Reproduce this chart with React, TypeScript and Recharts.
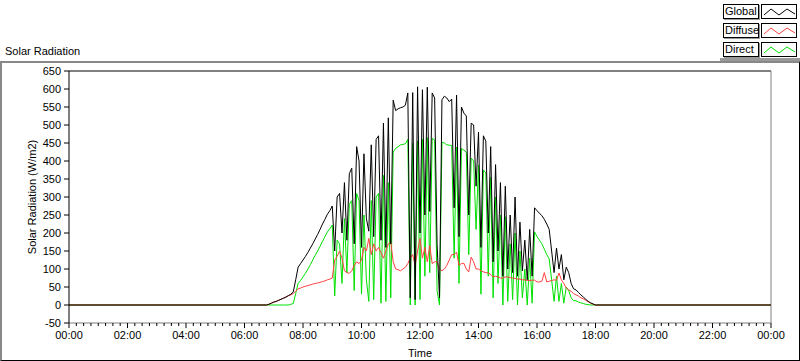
import React from 'react';
import { LineChart, Line, XAxis, YAxis, ReferenceLine } from 'recharts';

// daylight samples, 5 minutes apart, starting 06:45
const dayStartMinute = 405;
const stepMinutes = 5;

const globalValues = [
  0, 2, 5, 8, 10, 13, 16, 19, 22, 26, 30, 36, 70, 105, 115, 125, 135, 146, 158, 170,
  183, 196, 210, 225, 238, 252, 262, 275, 150, 300, 310, 200, 340, 180, 365, 380, 170, 440, 400, 160,
  420, 240, 205, 445, 190, 460, 470, 180, 505, 160, 520, 170, 569, 540, 545, 548, 550, 555, 589, 20,
  590, 15, 606, 200, 598, 250, 605, 260, 589, 575, 170, 20, 570, 580, 575, 565, 572, 270, 583, 190,
  550, 533, 525, 250, 505, 500, 330, 480, 160, 470, 455, 200, 440, 120, 390, 150, 340, 80, 330, 100,
  250, 90, 300, 80, 230, 95, 180, 70, 210, 80, 270, 262, 255, 248, 238, 225, 210, 150, 90, 158,
  100, 140, 70, 105, 90, 60, 45, 42, 35, 28, 22, 16, 10, 6, 3, 0,
];

const diffuseValues = [
  0, 2, 5, 8, 10, 13, 16, 19, 22, 26, 28, 32, 38, 45, 47, 50, 52, 54, 56, 58,
  60, 61, 63, 65, 67, 70, 72, 75, 125, 135, 150, 130, 95, 90, 88, 95, 110, 120, 115, 125,
  160, 150, 185, 140, 170, 150, 160, 145, 130, 150, 170, 175, 120, 100, 98, 95, 100, 105, 115, 130,
  140, 110, 150, 185, 130, 160, 120, 165, 115, 120, 120, 100, 95, 100, 110, 125, 140, 140, 147, 110,
  115, 116, 100, 92, 133, 120, 100, 100, 95, 92, 90, 89, 85, 78, 80, 78, 75, 75, 78, 78,
  76, 75, 74, 72, 72, 70, 70, 68, 68, 69, 69, 64, 64, 66, 90, 64, 66, 68, 70, 69,
  89, 70, 60, 47, 42, 38, 32, 28, 25, 20, 17, 13, 9, 5, 2, 0,
];

const directValues = [
  0, 0, 0, 0, 0, 0, 0, 0, 0, 0, 2, 4, 32, 60, 68, 78, 88, 100, 112, 125,
  138, 150, 163, 177, 190, 203, 212, 222, 25, 180, 170, 60, 240, 90, 280, 290, 40, 310, 290, 30,
  250, 70, 10, 290, 15, 300, 310, 5, 360, 10, 340, 20, 425, 435, 440, 445, 446, 448, 460, 0,
  450, 0, 455, 15, 460, 80, 465, 90, 463, 458, 40, 0, 452, 450, 445, 444, 443, 130, 439, 60,
  435, 430, 425, 140, 408, 400, 210, 389, 30, 375, 367, 80, 355, 20, 300, 60, 250, 0, 245, 10,
  170, 15, 200, 0, 150, 20, 100, 0, 130, 5, 203, 190, 180, 170, 155, 140, 128, 70, 10, 80,
  10, 60, 5, 50, 40, 20, 12, 12, 8, 6, 4, 2, 1, 0, 0, 0,
];

const yTicks = [-50, 0, 50, 100, 150, 200, 250, 300, 350, 400, 450, 500, 550, 600, 650];
const xMajorLabels = ['00:00', '02:00', '04:00', '06:00', '08:00', '10:00', '12:00',
  '14:00', '16:00', '18:00', '20:00', '22:00', '00:00'];
const xTicks = Array.from({ length: 97 }, (_, i) => i * 15);

const legendItems = [
  { name: 'Global', color: '#000000' },
  { name: 'Diffuse', color: '#ff4040' },
  { name: 'Direct', color: '#00e000' },
];

const data = [
  { minute: 0, global: 0, diffuse: 0, direct: 0 },
  ...globalValues.map((g, i) => ({
    minute: dayStartMinute + i * stepMinutes,
    global: g,
    diffuse: diffuseValues[i],
    direct: directValues[i],
  })),
  { minute: 1440, global: 0, diffuse: 0, direct: 0 },
];

const TimeTick = (props: any) => {
  const { x, y, payload } = props;
  const m = payload.value;
  const major = m % 120 === 0;
  return (
    <g>
      <line x1={x} x2={x} y1={y} y2={y + (major ? 5 : 3)} stroke="#000" />
      {major && (
        <text x={x} y={y + 16} textAnchor="middle" fontSize={11} fill="#000">
          {xMajorLabels[m / 120]}
        </text>
      )}
    </g>
  );
};

export default function App() {
  return (
    <div
      style={{
        position: 'absolute',
        left: 0,
        top: 0,
        width: 800,
        height: 361,
        background: '#fff',
        fontFamily: '"Liberation Sans", Arial, sans-serif',
        fontSize: 11,
        color: '#000',
        overflow: 'hidden',
      }}
    >
      {/* legend */}
      {legendItems.map((item, i) => (
        <div key={item.name}>
          <div
            style={{
              position: 'absolute',
              left: 723,
              top: 4 + i * 19,
              width: 33,
              height: 13,
              border: '1px solid #000',
              boxShadow: '1px 1px 0 #999',
              lineHeight: '13px',
              paddingLeft: 1,
              boxSizing: 'content-box',
            }}
          >
            {item.name}
          </div>
          <svg
            width={36}
            height={15}
            style={{ position: 'absolute', left: 761, top: 4 + i * 19, border: '1px solid #000', boxSizing: 'border-box' }}
          >
            <polyline points="2,10 9,4 17,10 25,4 33,9" fill="none" stroke={item.color} strokeWidth={1} />
          </svg>
        </div>
      ))}
      <div style={{ position: 'absolute', left: 720, top: 58, width: 80, height: 4, background: '#999' }} />

      {/* frame */}
      <div
        style={{
          position: 'absolute',
          left: 0,
          top: 61,
          width: 800,
          height: 300,
          boxSizing: 'border-box',
          borderTop: '2px solid #888',
          borderLeft: '2px solid #888',
          borderRight: '1px solid #000',
          borderBottom: '1px solid #000',
        }}
      />
      <div style={{ position: 'absolute', left: 5, top: 45, whiteSpace: 'nowrap' }}>Solar Radiation</div>

      <div style={{ position: 'absolute', left: 0, top: 0 }}>
        <LineChart width={800} height={361} data={data} margin={{ top: 71, right: 29, bottom: 0, left: 0 }}>
          <XAxis
            dataKey="minute"
            type="number"
            domain={[0, 1440]}
            ticks={xTicks}
            interval={0}
            tickSize={0}
            tickMargin={0}
            tickLine={false}
            tick={<TimeTick />}
            axisLine={{ stroke: '#808080' }}
            height={38}
            label={{ value: 'Time', position: 'insideBottom', offset: 4, fontSize: 11, fill: '#000' }}
          />
          <YAxis
            type="number"
            domain={[-50, 650]}
            ticks={yTicks}
            interval={0}
            width={69}
            tickSize={5}
            tickMargin={3}
            axisLine={{ stroke: '#000' }}
            tickLine={{ stroke: '#000' }}
            tick={{ fontSize: 11, fill: '#000' }}
            label={{ value: 'Solar Radiation (W/m2)', angle: -90, position: 'center', dx: -2, fontSize: 11, fill: '#000' }}
          />
          <ReferenceLine y={650} stroke="#000" />
          <ReferenceLine x={1440} stroke="#808080" />
          <Line type="linear" dataKey="direct" stroke="#00e000" strokeWidth={1} dot={false} activeDot={false} isAnimationActive={false} />
          <Line type="linear" dataKey="diffuse" stroke="#ff4040" strokeWidth={1} dot={false} activeDot={false} isAnimationActive={false} />
          <Line type="linear" dataKey="global" stroke="#000000" strokeWidth={1} dot={false} activeDot={false} isAnimationActive={false} />
        </LineChart>
      </div>
    </div>
  );
}
